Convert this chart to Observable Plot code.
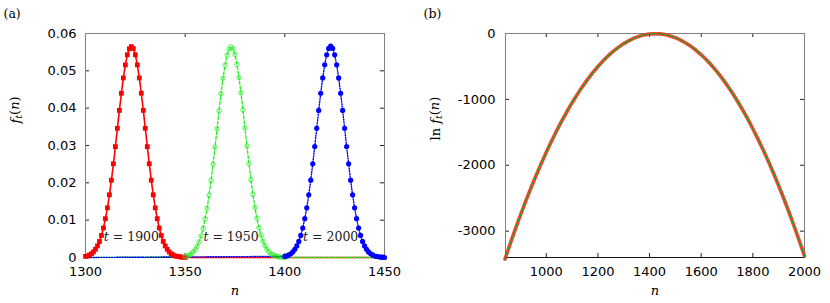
<!DOCTYPE html>
<html>
<head>
<meta charset="utf-8">
<script src="https://cdn.jsdelivr.net/npm/d3@7"></script>
<script src="https://cdn.jsdelivr.net/npm/@observablehq/plot@0.6"></script>
<style>
  body { margin: 0; background: #fff; }
  #wrap { display: flex; width: 830px; height: 303px; }
  #wrap svg { overflow: visible; display: block; }
</style>
</head>
<body>
<div id="wrap"><div id="pa"></div><div id="pb"></div></div>
<script>
// ---------- data: panel (a) ----------
const times = [1900, 1950, 2000];
const nStart = [1300, 1350, 1400]; // first n of each measured profile (step 1)
const profile1900 = [0.0003,0.0004,0.0007,0.0010,0.0015,0.0022,0.0031,0.0043,0.0059,0.0079,
  0.0104,0.0133,0.0168,0.0207,0.0251,0.0297,0.0346,0.0394,0.0440,0.0481,
  0.0516,0.0543,0.0559,0.0565,0.0560,0.0543,0.0516,0.0481,0.0440,0.0394,
  0.0346,0.0297,0.0251,0.0207,0.0168,0.0133,0.0104,0.0079,0.0059,0.0043,
  0.0031,0.0022,0.0015,0.0010,0.0007,0.0004,0.0003,0.0002,0.0001,0.0001,0.0000];
const profile1950 = [0.0002,0.0004,0.0006,0.0010,0.0015,0.0021,0.0030,0.0042,0.0058,0.0078,
  0.0103,0.0132,0.0167,0.0206,0.0250,0.0296,0.0345,0.0393,0.0439,0.0480,
  0.0515,0.0542,0.0558,0.0564,0.0559,0.0544,0.0517,0.0482,0.0441,0.0395,
  0.0347,0.0298,0.0252,0.0208,0.0169,0.0134,0.0105,0.0080,0.0060,0.0044,
  0.0032,0.0022,0.0015,0.0010,0.0007,0.0005,0.0003,0.0002,0.0001,0.0001,0.0000];
const profile2000 = [0.0003,0.0004,0.0007,0.0010,0.0015,0.0022,0.0031,0.0043,0.0059,0.0079,
  0.0104,0.0133,0.0168,0.0207,0.0251,0.0297,0.0346,0.0394,0.0440,0.0481,
  0.0516,0.0543,0.0560,0.0566,0.0560,0.0543,0.0516,0.0481,0.0440,0.0394,
  0.0346,0.0297,0.0251,0.0207,0.0168,0.0133,0.0104,0.0079,0.0059,0.0043,
  0.0031,0.0022,0.0015,0.0010,0.0007,0.0004,0.0003,0.0002,0.0001,0.0001,0.0000];
const xDomainA = [1300, 1450];
const yDomainA = [0, 0.06];
const xTicksA = [1300, 1350, 1400, 1450];
const yTicksA = [0, 0.01, 0.02, 0.03, 0.04, 0.05, 0.06];

// ---------- data: panel (b) ----------
const nB = [840,860,880,900,920,940,960,980,1000,1020,
  1040,1060,1080,1100,1120,1140,1160,1180,1200,1220,
  1240,1260,1280,1300,1320,1340,1360,1380,1400,1420,
  1440,1460,1480,1500,1520,1540,1560,1580,1600,1620,
  1640,1660,1680,1700,1720,1740,1760,1780,1800,1820,
  1840,1860,1880,1900,1920,1940,1960,1980,2000];
const lnB = [-3424,-3193,-2970,-2755,-2548,-2349,-2159,-1976,-1802,-1635,
  -1477,-1326,-1184,-1050,-924,-806,-696,-594,-501,-415,
  -337,-268,-207,-153,-108,-71,-42,-21,-8,-3,
  -6,-17,-37,-64,-100,-144,-195,-255,-323,-399,
  -483,-575,-675,-783,-900,-1024,-1157,-1297,-1446,-1603,
  -1768,-1940,-2121,-2311,-2508,-2713,-2926,-3148,-3377];
const xDomainB = [842, 2000];
const yDomainB = [-3400, 0];
const xTicksB = [1000, 1200, 1400, 1600, 1800, 2000];
const yTicksB = [0, -1000, -2000, -3000];

// ---------- layout ----------
const W = 415, H = 303;
const mTop = 33, mBottom = 46;
const frameH = H - mTop - mBottom;
const TICK = 4;
const serif = "DejaVu Serif";
const style = { fontFamily: "DejaVu Sans", fontSize: "13px", color: "black", background: "white", overflow: "visible" };

function frameTicks(xt, yt, frameW, yMin) {
  return [
    Plot.tickX(xt, { x: d => d, insetTop: frameH - TICK, stroke: "#222" }),
    Plot.tickX(xt, { x: d => d, insetBottom: frameH - TICK, stroke: "#222" }),
    Plot.tickY(yt, { y: d => d, insetRight: frameW - TICK, stroke: "#222" }),
    Plot.tickY(yt, { y: d => d, insetLeft: frameW - TICK, stroke: "#222" }),
    Plot.frame({ stroke: "#808080" }),
    Plot.ruleY([yMin], { stroke: "#111" })
  ];
}

// ---------- panel (a) ----------
const colorsA = ["#ff0000", "#22ee22", "#0000ff"];
const profiles = [profile1900, profile1950, profile2000];
const pts = profiles.map((p, k) => p.map((f, i) => ({ n: nStart[k] + i, f })));
const linesA = pts.map(p => [{ n: xDomainA[0], f: 0 }, ...p, { n: xDomainA[1], f: 0 }]);
const peaks = pts.map((p, k) => ({ n: d3.greatest(p, d => d.f).n, label: `t = ${times[k]}` }));

const mLA = 85, mRA = 31;
const plotA = Plot.plot({
  width: W, height: H,
  marginLeft: mLA, marginRight: mRA, marginTop: mTop, marginBottom: mBottom,
  style,
  x: { domain: xDomainA, ticks: xTicksA, tickSize: 0, tickPadding: 9, label: null, tickFormat: d => String(d) },
  y: { domain: yDomainA, ticks: yTicksA, tickSize: 0, tickPadding: 9, label: null, tickFormat: d => d === 0 ? "0" : d.toFixed(2) },
  marks: [
    ...frameTicks(xTicksA, yTicksA, W - mLA - mRA, yDomainA[0]),
    Plot.line(linesA[0], { x: "n", y: "f", stroke: colorsA[0], strokeWidth: 1.6 }),
    Plot.line(linesA[1], { x: "n", y: "f", stroke: colorsA[1], strokeWidth: 1.3, strokeDasharray: "3,2" }),
    Plot.line(linesA[2], { x: "n", y: "f", stroke: colorsA[2], strokeWidth: 1.4, strokeDasharray: "1,1.6" }),
    Plot.dot(pts[0], { x: "n", y: "f", symbol: "square", r: 2.7, fill: colorsA[0] }),
    Plot.dot(pts[1], { x: "n", y: "f", r: 2.2, fill: "none", stroke: colorsA[1], strokeWidth: 0.8 }),
    Plot.dot(pts[2], { x: "n", y: "f", r: 2.6, fill: colorsA[2] }),
    Plot.text(peaks, { x: "n", frameAnchor: "bottom", dy: -17, text: "label", fontFamily: serif, fontSize: 12.5, fill: "#222" }),
    Plot.text(["(a)"], { frameAnchor: "top-left", dx: -82, dy: -24, textAnchor: "start", fontFamily: serif, fontSize: 12.5 }),
    Plot.text(["f_t(n)"], { frameAnchor: "left", dx: -70, dy: -22, rotate: -90, fontFamily: serif, fontSize: 13 }),
    Plot.text(["n"], { frameAnchor: "bottom", dy: 37, fontFamily: serif, fontStyle: "italic", fontSize: 13 })
  ]
});

// ---------- panel (b) ----------
const dataB = nB.map((n, i) => ({ n, v: lnB[i] }));
const mLB = 90, mRB = 26;
const plotB = Plot.plot({
  width: W, height: H,
  marginLeft: mLB, marginRight: mRB, marginTop: mTop, marginBottom: mBottom,
  style,
  x: { domain: xDomainB, ticks: xTicksB, tickSize: 0, tickPadding: 9, label: null, tickFormat: d => String(d) },
  y: { domain: yDomainB, ticks: yTicksB, tickSize: 0, tickPadding: 10, label: null, tickFormat: d => String(d) },
  marks: [
    ...frameTicks(xTicksB, yTicksB, W - mLB - mRB, yDomainB[0]),
    Plot.line(dataB, { x: "n", y: "v", stroke: "#ff2020", strokeWidth: 3.6, strokeOpacity: 0.85 }),
    Plot.line(dataB, { x: "n", y: "v", stroke: "#00b400", strokeWidth: 1.3, strokeDasharray: "3,2" }),
    Plot.text(["(b)"], { frameAnchor: "top-left", dx: -82, dy: -24, textAnchor: "start", fontFamily: serif, fontSize: 12.5 }),
    Plot.text(["ln f_t(n)"], { frameAnchor: "left", dx: -70, dy: -5, rotate: -90, fontFamily: serif, fontSize: 13 }),
    Plot.text(["n"], { frameAnchor: "bottom", dy: 37, fontFamily: serif, fontStyle: "italic", fontSize: 13 })
  ]
});

document.getElementById("pa").append(plotA);
document.getElementById("pb").append(plotB);

// math-style formatting of labels (italic variables, subscript)
const ftHTML = '<tspan font-style="italic">f</tspan><tspan font-style="italic" font-size="0.72em" dy="0.3em">t</tspan><tspan dy="-0.3em">(</tspan><tspan font-style="italic">n</tspan>)';
for (const svg of [plotA, plotB]) {
  d3.select(svg).selectAll("text").each(function () {
    const s = this.textContent;
    if (s === "f_t(n)") this.innerHTML = ftHTML;
    else if (s === "ln f_t(n)") this.innerHTML = 'ln ' + ftHTML;
    else if (/^t = \d+$/.test(s)) this.innerHTML = '<tspan font-style="italic">t</tspan>' + s.slice(1);
  });
}
</script>
</body>
</html>
